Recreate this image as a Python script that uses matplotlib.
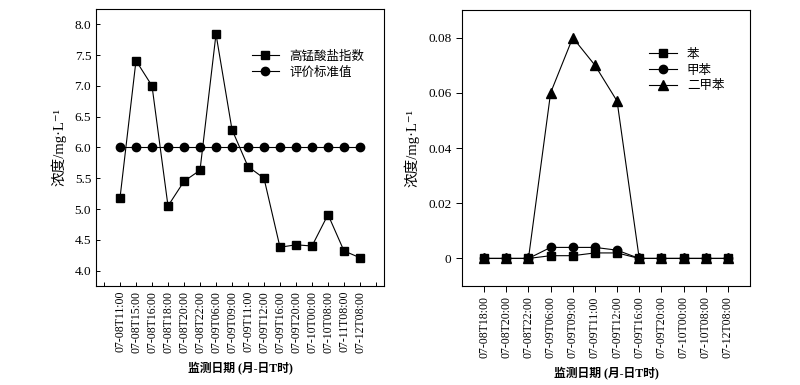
import matplotlib
matplotlib.use('Agg')
import matplotlib.pyplot as plt

plt.rcParams['font.family'] = ['Liberation Serif', 'Noto Sans CJK SC', 'DejaVu Sans']
plt.rcParams['font.size'] = 8.5

# 左图数据
fechas_izq = ['07-08T11:00', '07-08T15:00', '07-08T16:00', '07-08T18:00', '07-08T20:00',
              '07-08T22:00', '07-09T06:00', '07-09T09:00', '07-09T11:00', '07-09T12:00',
              '07-09T16:00', '07-09T20:00', '07-10T00:00', '07-10T08:00', '07-11T08:00',
              '07-12T08:00']
gaomeng = [5.18, 7.41, 7.00, 5.05, 5.45, 5.63, 7.84, 6.29, 5.69, 5.50,
           4.38, 4.42, 4.40, 4.91, 4.32, 4.21]
biaozhun = [6.0] * 16

# 右图数据
fechas_der = ['07-08T18:00', '07-08T20:00', '07-08T22:00', '07-09T06:00', '07-09T09:00',
              '07-09T11:00', '07-09T12:00', '07-09T16:00', '07-09T20:00', '07-10T00:00',
              '07-10T08:00', '07-12T08:00']
ben = [0, 0, 0, 0.001, 0.001, 0.002, 0.002, 0, 0, 0, 0, 0]
jiaben = [0, 0, 0, 0.004, 0.004, 0.004, 0.003, 0, 0, 0, 0, 0]
erjiaben = [0, 0, 0, 0.060, 0.080, 0.070, 0.057, 0, 0, 0, 0, 0]

fig = plt.figure(figsize=(8, 3.85), dpi=100)
ax1 = fig.add_axes([0.12, 0.257, 0.36, 0.72])
ax2 = fig.add_axes([0.5775, 0.257, 0.36, 0.717])

estilo = dict(color='black', linewidth=0.8)

# 左图
x1 = list(range(len(fechas_izq)))
ax1.plot(x1, gaomeng, marker='s', markersize=5.5, label='高锰酸盐指数', **estilo)
ax1.plot(x1, biaozhun, marker='o', markersize=6, label='评价标准值', **estilo)
ax1.set_xlim(-1.5, len(fechas_izq) + 0.5)
ax1.set_ylim(3.75, 8.25)
ax1.set_xticks(list(range(-1, len(fechas_izq) + 1)))
ax1.set_xticklabels([''] + fechas_izq + [''], rotation=90)
ax1.set_yticks([4.0, 4.5, 5.0, 5.5, 6.0, 6.5, 7.0, 7.5, 8.0])
ax1.set_yticklabels(['4.0', '4.5', '5.0', '5.5', '6.0', '6.5', '7.0', '7.5', '8.0'])
ax1.tick_params(direction='in', length=3, width=0.7)
ax1.tick_params(axis='y', labelsize=9.5)
ax1.set_ylabel('浓度/mg·L⁻¹', labelpad=6, fontsize=10.5)
ax1.set_xlabel('监测日期 (月-日T时)', fontweight='bold', labelpad=6)
ax1.legend(loc='upper right', bbox_to_anchor=(0.97, 0.89), frameon=False,
           handlelength=2.2, labelspacing=0.3, fontsize=9)

# 右图
x2 = list(range(len(fechas_der)))
ax2.plot(x2, ben, marker='s', markersize=5.5, label='苯', **estilo)
ax2.plot(x2, jiaben, marker='o', markersize=6, label='甲苯', **estilo)
ax2.plot(x2, erjiaben, marker='^', markersize=6.5, label='二甲苯', **estilo)
ax2.set_xlim(-1, len(fechas_der))
ax2.set_ylim(-0.01, 0.09)
ax2.set_xticks(x2)
ax2.set_xticklabels(fechas_der, rotation=90)
ax2.set_yticks([0, 0.02, 0.04, 0.06, 0.08])
ax2.set_yticklabels(['0', '0.02', '0.04', '0.06', '0.08'])
ax2.tick_params(direction='out', length=4, width=0.7)
ax2.tick_params(axis='y', labelsize=9.5)
ax2.set_ylabel('浓度/mg·L⁻¹', labelpad=6, fontsize=10.5)
ax2.set_xlabel('监测日期 (月-日T时)', fontweight='bold', labelpad=6)
ax2.legend(loc='upper right', bbox_to_anchor=(0.95, 0.9), frameon=False,
           handlelength=2.2, labelspacing=0.3, fontsize=9)

for ax in (ax1, ax2):
    for s in ax.spines.values():
        s.set_linewidth(0.8)

fig.savefig('out.png', dpi=100)
